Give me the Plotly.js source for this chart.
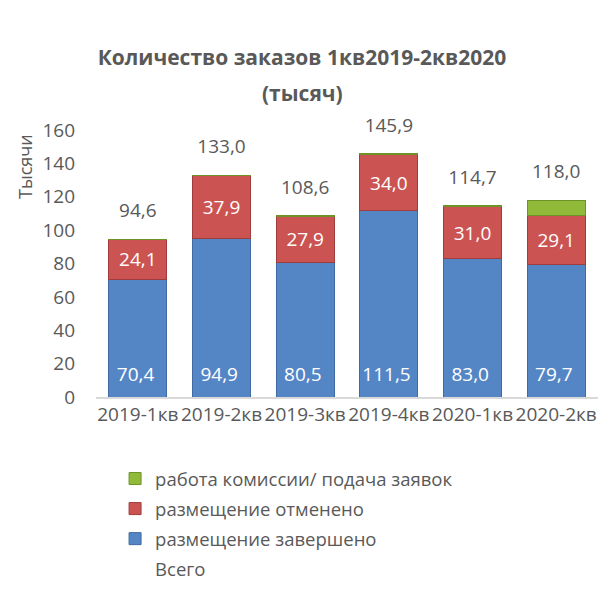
<!DOCTYPE html>
<html><head><meta charset="utf-8">
<script src="https://cdn.plot.ly/plotly-3.0.1.min.js"></script>
<style>html,body{margin:0;padding:0;background:#fff}#chart{width:615px;height:590px}</style>
</head><body><div id="chart"></div>
<script>
var categories = ['2019-1кв','2019-2кв','2019-3кв','2019-4кв','2020-1кв','2020-2кв'];
var completed = [70.4, 94.9, 80.5, 111.5, 83.0, 79.7];
var cancelled = [24.1, 37.9, 27.9, 34.0, 31.0, 29.1];
var inProgress = [0.1, 0.2, 0.2, 0.4, 0.7, 9.2];
var totals = [94.6, 133.0, 108.6, 145.9, 114.7, 118.0];
var seriesNames = ['размещение завершено','размещение отменено','работа комиссии/ подача заявок','Всего'];
var yTicks = [0,20,40,60,80,100,120,140,160];

var FONT = 'Open Sans, sans-serif';
var GREY = '#595959';

var traces = [
  {type:'bar', name:seriesNames[0], legendgroup:'g1', legendrank:3, x:categories, y:completed,
   marker:{color:'#5486C6', line:{color:'#3f6aa3', width:1}},
   texttemplate:'%{y:.1f}<span style="font-size:46px">\u200A</span>', textposition:'inside', insidetextanchor:'start',
   textfont:{color:'#ffffff', size:19, family:FONT}, constraintext:'none', hoverinfo:'skip'},
  {type:'bar', name:seriesNames[1], legendgroup:'g2', legendrank:2, x:categories, y:cancelled,
   marker:{color:'#CB5452', line:{color:'#9e3d3b', width:1}},
   texttemplate:'%{y:.1f}', textposition:'inside', insidetextanchor:'middle',
   textfont:{color:'#ffffff', size:19, family:FONT}, constraintext:'none', hoverinfo:'skip'},
  {type:'bar', name:seriesNames[2], legendgroup:'g3', legendrank:1, x:categories, y:inProgress,
   marker:{color:'#8FBA3A', line:{color:'#6f9228', width:1}},
   textposition:'none', hoverinfo:'skip'},
  {type:'scatter', name:seriesNames[3], legendgroup:'g4', legendrank:4, x:categories, y:totals, mode:'markers+text',
   marker:{color:'rgba(0,0,0,0)', size:26},
   texttemplate:'%{y:.1f}', textposition:'top center',
   textfont:{color:GREY, size:19, family:FONT}, cliponaxis:false, hoverinfo:'skip'}
];

var layout = {
  width:615, height:590,
  margin:{l:96, r:17, t:130, b:193, autoexpand:false},
  paper_bgcolor:'#fff', plot_bgcolor:'#fff',
  separators:', ',
  barmode:'stack', bargap:0.31,
  font:{family:FONT, color:GREY, size:19},
  showlegend:true,
  title:{text:'<b>Количество заказов 1кв2019-2кв2020</b>', x:0.491, xanchor:'center',
         y:1-58/590, yanchor:'middle', font:{family:FONT, size:21, color:GREY}},
  xaxis:{type:'category', showline:true, linecolor:'#d9d9d9', linewidth:1.5, ticks:'',
         showgrid:false, zeroline:false, tickfont:{size:19, color:GREY, family:FONT}},
  yaxis:{range:[0,160], tickvals:yTicks, showgrid:false, zeroline:false, showline:false,
         ticks:'', ticklabelstandoff:20, tickfont:{size:19, color:GREY, family:FONT}},
  legend:{orientation:'v', traceorder:'grouped', x:0.038, xanchor:'left',
          yref:'container', y:(590-460)/590, yanchor:'top', font:{size:18.5, color:GREY, family:FONT},
          itemclick:false, bgcolor:'rgba(0,0,0,0)', tracegroupgap:3},
  annotations:[
    {text:'<b>(тысяч)</b>', xref:'paper', yref:'paper', x:(302-96)/502, y:(397-93)/267,
     xanchor:'center', yanchor:'middle', showarrow:false, font:{family:FONT, size:21, color:GREY}},
    {text:'Тысячи', xref:'paper', yref:'paper', x:(25-96)/502, y:(397-167)/267, textangle:-90,
     xanchor:'center', yanchor:'middle', showarrow:false, font:{family:FONT, size:18, color:GREY}}
  ]
};
Plotly.newPlot('chart', traces, layout, {displayModeBar:false, staticPlot:true});
</script></body></html>
